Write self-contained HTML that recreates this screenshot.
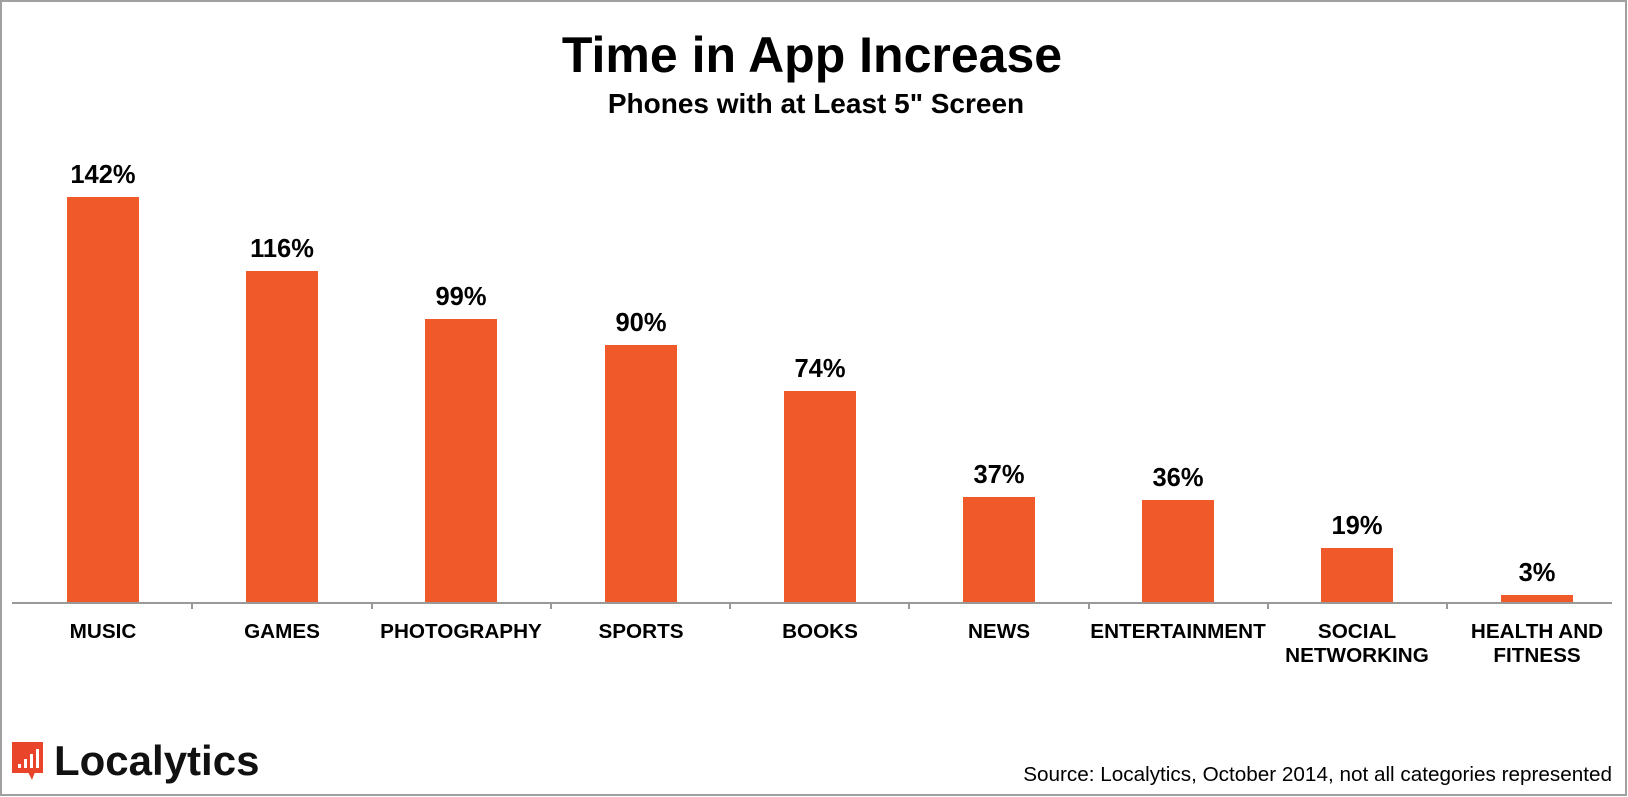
<!DOCTYPE html>
<html><head><meta charset="utf-8"><style>
html,body{margin:0;padding:0;background:#fff}
svg{display:block}
text{font-family:"Liberation Sans",Arial,sans-serif}
</style></head><body>
<svg width="1628" height="797" viewBox="0 0 1628 797" xmlns="http://www.w3.org/2000/svg">
<rect x="1" y="1" width="1625" height="794" fill="#fff" stroke="#a0a0a0" stroke-width="2"/>
<text x="812" y="72" font-size="50" font-weight="bold" text-anchor="middle">Time in App Increase</text>
<text x="816" y="113" font-size="28" font-weight="bold" text-anchor="middle">Phones with at Least 5" Screen</text>
<g fill="#F05A2A">
<rect x="67" y="197" width="72" height="405"/>
<rect x="246" y="271" width="72" height="331"/>
<rect x="425" y="319" width="72" height="283"/>
<rect x="605" y="345" width="72" height="257"/>
<rect x="784" y="391" width="72" height="211"/>
<rect x="963" y="497" width="72" height="105"/>
<rect x="1142" y="500" width="72" height="102"/>
<rect x="1321" y="548" width="72" height="54"/>
<rect x="1501" y="595" width="72" height="7"/>
</g>
<g font-size="25.5" font-weight="bold" text-anchor="middle">
<text x="103" y="183">142%</text>
<text x="282" y="257">116%</text>
<text x="461" y="305">99%</text>
<text x="641" y="331">90%</text>
<text x="820" y="377">74%</text>
<text x="999" y="483">37%</text>
<text x="1178" y="486">36%</text>
<text x="1357" y="534">19%</text>
<text x="1537" y="581">3%</text>
</g>
<line x1="12" y1="603" x2="1612" y2="603" stroke="#999" stroke-width="2"/>
<g stroke="#999" stroke-width="2">
<line x1="192" y1="603" x2="192" y2="609"/><line x1="372" y1="603" x2="372" y2="609"/>
<line x1="551" y1="603" x2="551" y2="609"/><line x1="730" y1="603" x2="730" y2="609"/>
<line x1="909" y1="603" x2="909" y2="609"/><line x1="1089" y1="603" x2="1089" y2="609"/>
<line x1="1268" y1="603" x2="1268" y2="609"/><line x1="1447" y1="603" x2="1447" y2="609"/>
</g>
<g font-size="20.7" font-weight="bold" text-anchor="middle">
<text x="103" y="638">MUSIC</text>
<text x="282" y="638">GAMES</text>
<text x="461" y="638">PHOTOGRAPHY</text>
<text x="641" y="638">SPORTS</text>
<text x="820" y="638">BOOKS</text>
<text x="999" y="638">NEWS</text>
<text x="1178" y="638">ENTERTAINMENT</text>
<text x="1357" y="638">SOCIAL</text>
<text x="1357" y="662">NETWORKING</text>
<text x="1537" y="638">HEALTH AND</text>
<text x="1537" y="662">FITNESS</text>
</g>
<text x="1612" y="781" font-size="20.7" text-anchor="end">Source: Localytics, October 2014, not all categories represented</text>
<g>
<rect x="12" y="742" width="31" height="31" fill="#E8452A"/>
<polygon points="28,772 35,772 32,780" fill="#E8452A"/>
<g fill="#fff">
<rect x="18" y="764" width="3" height="4"/>
<rect x="24" y="759" width="3" height="9"/>
<rect x="30" y="754" width="3" height="14"/>
<rect x="36" y="749" width="3" height="19"/>
</g>
<text x="54" y="775" font-size="42" font-weight="bold" fill="#111">Localytics</text>
</g>
</svg>
</body></html>
